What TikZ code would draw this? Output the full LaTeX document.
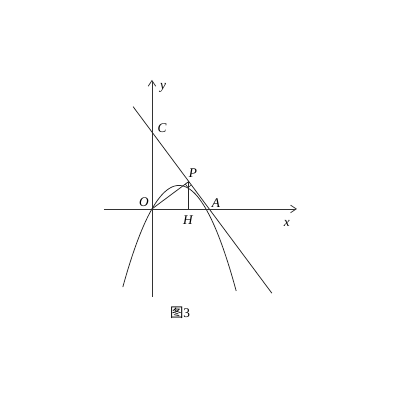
\documentclass[tikz,border=0pt]{standalone}
\usepackage{fontspec}
\setmainfont{Liberation Serif}
\newfontfamily\cjk{Noto Sans CJK SC}
\usetikzlibrary{arrows.meta,calc}

\tikzset{
  axis/.style={draw=black!80,line width=0.8pt,-{Straight Barb[length=6pt,width=8pt]}},
  curve/.style={draw=black!85,line width=0.8pt},
  lbl/.style={font=\fontsize{14}{16}\selectfont\itshape,inner sep=0pt}
}

\begin{document}
\begin{tikzpicture}[x=1cm,y=1cm]
  \useasboundingbox (-5.63,-7.19) rectangle (9.30,7.74);
  % points
  \coordinate (O) at (0,0);
  \coordinate (A) at (2,0);
  \coordinate (C) at (0,2.85);
  \coordinate (P) at (1.365,1.016);
  \coordinate (H) at (1.365,0);
  \coordinate (L1) at (-0.70,3.79);
  \coordinate (L2) at (4.44,-3.12);
  \coordinate (xl) at (-1.78,0);
  \coordinate (xr) at (5.37,0);
  \coordinate (yb) at (0,-3.26);
  \coordinate (yt) at (0,4.78);
  % axes
  \draw[axis] (xl) -- (xr);
  \draw[axis] (yb) -- (yt);
  % parabola and line
  \draw[curve,domain=-1.08:3.12,smooth,samples=60] plot (\x,{-0.87*\x*(\x-2)});
  \draw[curve] (L1) -- (L2);
  \draw[curve] (O) -- (P);
  \draw[curve] (P) -- (H);
  % right angle at P
  \coordinate (Pa) at ($(P)!0.16cm!(O)$);
  \coordinate (Pb) at ($(P)!0.16cm!(L2)$);
  \draw[curve,line width=0.6pt] (Pa) -- ($(Pa)+(Pb)-(P)$) -- (Pb);
  % labels
  \node[lbl] (ylbl) at (0.41,4.5) {y};
  \node[lbl] (xlbl) at (5.0,-0.52) {x};
  \node[lbl] (Olbl) at (-0.3,0.26) {O};
  \node[lbl] (Clbl) at (0.37,3.0) {C};
  \node[lbl] (Plbl) at (1.52,1.33) {P};
  \node[lbl] (Albl) at (2.37,0.22) {A};
  \node[lbl] (Hlbl) at (1.33,-0.41) {H};
  \node[inner sep=0pt,font=\fontsize{14}{16}\selectfont] (cap) at (1.04,-3.85) {{\cjk 图}3};
\end{tikzpicture}
\end{document}
